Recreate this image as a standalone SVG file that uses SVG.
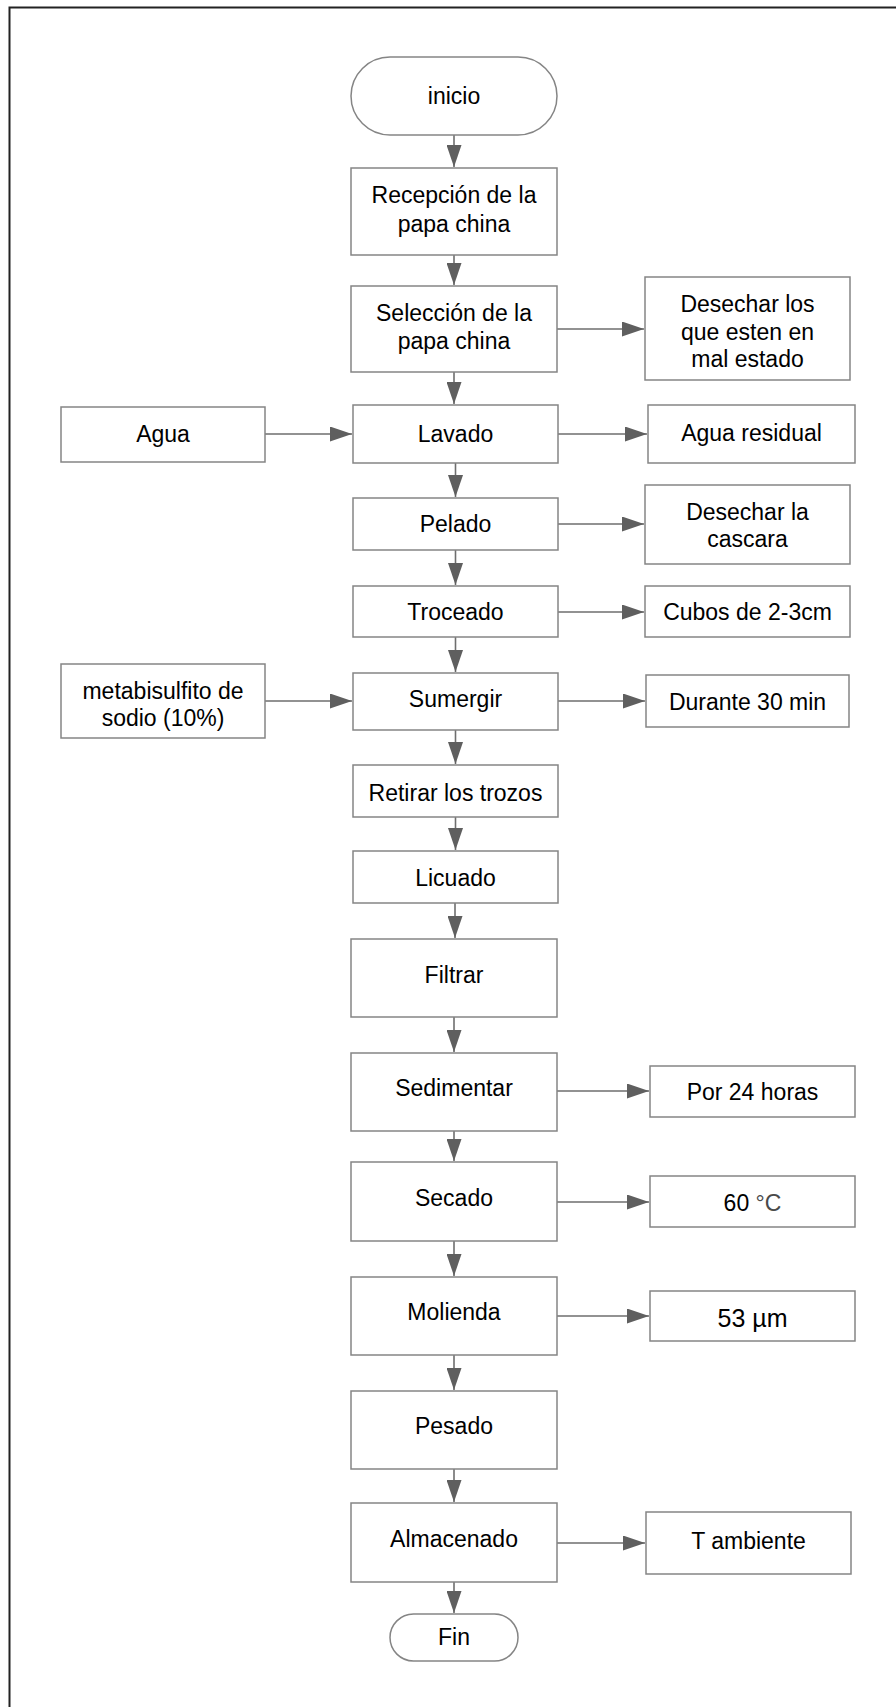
<svg xmlns="http://www.w3.org/2000/svg" width="896" height="1707" viewBox="0 0 896 1707">
<defs>
<marker id="arr" markerUnits="userSpaceOnUse" markerWidth="22" markerHeight="15" refX="22" refY="7.5" orient="auto">
<path d="M0,0 L22,7.5 L0,15 Z" fill="#5f5f5f"/>
</marker>
<style>
.n{fill:#fff;stroke:#858585;stroke-width:1.5}
.t{font-family:"Liberation Sans",Arial,sans-serif;font-size:23px;fill:#000;text-anchor:middle}
.c{fill:none;stroke:#6e6e6e;stroke-width:1.6;marker-end:url(#arr)}
</style>
</defs>
<rect x="0" y="0" width="896" height="1707" fill="#fff"/>
<rect x="9.5" y="7.5" width="900" height="1720" fill="none" stroke="#222" stroke-width="2"/>

<g id="connectors">
<path class="c" d="M454,135 V167"/>
<path class="c" d="M454,255 V285"/>
<path class="c" d="M454,372 V404"/>
<path class="c" d="M455.5,463 V497"/>
<path class="c" d="M455.5,550 V585"/>
<path class="c" d="M455.5,637 V672"/>
<path class="c" d="M455.5,730 V764"/>
<path class="c" d="M455.5,817 V850"/>
<path class="c" d="M455,903 V938"/>
<path class="c" d="M454,1017 V1052"/>
<path class="c" d="M454,1131 V1161"/>
<path class="c" d="M454,1241 V1276"/>
<path class="c" d="M454,1355 V1390"/>
<path class="c" d="M454,1469 V1502"/>
<path class="c" d="M454,1582 V1613"/>
<path class="c" d="M557,329 H644"/>
<path class="c" d="M265,434 H352"/>
<path class="c" d="M558,434 H647"/>
<path class="c" d="M558,524 H644"/>
<path class="c" d="M558,612 H644"/>
<path class="c" d="M265,701 H352"/>
<path class="c" d="M558,701 H645"/>
<path class="c" d="M557,1091 H649"/>
<path class="c" d="M557,1202 H649"/>
<path class="c" d="M557,1316 H649"/>
<path class="c" d="M557,1543 H645"/>
</g>

<g id="inicio"><rect class="n" x="351" y="57" width="206" height="78" rx="39"/><text class="t" x="454" y="104">inicio</text></g>
<g id="recepcion"><rect class="n" x="351" y="168" width="206" height="87"/><text class="t" x="454" y="203">Recepción de la</text><text class="t" x="454" y="232">papa china</text></g>
<g id="seleccion"><rect class="n" x="351" y="286" width="206" height="86"/><text class="t" x="454" y="321">Selección de la</text><text class="t" x="454" y="349">papa china</text></g>
<g id="desechar1"><rect class="n" x="645" y="277" width="205" height="103"/><text class="t" x="747.5" y="312">Desechar los</text><text class="t" x="747.5" y="340">que esten en</text><text class="t" x="747.5" y="367">mal estado</text></g>
<g id="agua"><rect class="n" x="61" y="407" width="204" height="55"/><text class="t" x="163" y="442">Agua</text></g>
<g id="lavado"><rect class="n" x="353" y="405" width="205" height="58"/><text class="t" x="455.5" y="442">Lavado</text></g>
<g id="aguaresidual"><rect class="n" x="648" y="405" width="207" height="58"/><text class="t" x="751.5" y="441">Agua residual</text></g>
<g id="pelado"><rect class="n" x="353" y="498" width="205" height="52"/><text class="t" x="455.5" y="532">Pelado</text></g>
<g id="desechar2"><rect class="n" x="645" y="485" width="205" height="79"/><text class="t" x="747.5" y="520">Desechar la</text><text class="t" x="747.5" y="547">cascara</text></g>
<g id="troceado"><rect class="n" x="353" y="586" width="205" height="51"/><text class="t" x="455.5" y="620">Troceado</text></g>
<g id="cubos"><rect class="n" x="645" y="586" width="205" height="51"/><text class="t" x="747.5" y="620">Cubos de 2-3cm</text></g>
<g id="metabisulfito"><rect class="n" x="61" y="664" width="204" height="74"/><text class="t" x="163" y="699">metabisulfito de</text><text class="t" x="163" y="726">sodio (10%)</text></g>
<g id="sumergir"><rect class="n" x="353" y="673" width="205" height="57"/><text class="t" x="455.5" y="707">Sumergir</text></g>
<g id="durante"><rect class="n" x="646" y="675" width="203" height="52"/><text class="t" x="747.5" y="710">Durante 30 min</text></g>
<g id="retirar"><rect class="n" x="353" y="765" width="205" height="52"/><text class="t" x="455.5" y="801">Retirar los trozos</text></g>
<g id="licuado"><rect class="n" x="353" y="851" width="205" height="52"/><text class="t" x="455.5" y="886">Licuado</text></g>
<g id="filtrar"><rect class="n" x="351" y="939" width="206" height="78"/><text class="t" x="454" y="983">Filtrar</text></g>
<g id="sedimentar"><rect class="n" x="351" y="1053" width="206" height="78"/><text class="t" x="454" y="1096">Sedimentar</text></g>
<g id="por24"><rect class="n" x="650" y="1066" width="205" height="51"/><text class="t" x="752.5" y="1100">Por 24 horas</text></g>
<g id="secado"><rect class="n" x="351" y="1162" width="206" height="79"/><text class="t" x="454" y="1206">Secado</text></g>
<g id="temp60"><rect class="n" x="650" y="1176" width="205" height="51"/><text class="t" x="752.5" y="1211">60 <tspan fill="#4a4a4a">°C</tspan></text></g>
<g id="molienda"><rect class="n" x="351" y="1277" width="206" height="78"/><text class="t" x="454" y="1320">Molienda</text></g>
<g id="micras"><rect class="n" x="650" y="1291" width="205" height="50"/><text class="t" x="752.5" y="1327" style="font-size:25px">53 µm</text></g>
<g id="pesado"><rect class="n" x="351" y="1391" width="206" height="78"/><text class="t" x="454" y="1434">Pesado</text></g>
<g id="almacenado"><rect class="n" x="351" y="1503" width="206" height="79"/><text class="t" x="454" y="1547">Almacenado</text></g>
<g id="tambiente"><rect class="n" x="646" y="1512" width="205" height="62"/><text class="t" x="748.5" y="1549">T ambiente</text></g>
<g id="fin"><rect class="n" x="390" y="1614" width="128" height="47" rx="23.5"/><text class="t" x="454" y="1645">Fin</text></g>
</svg>
